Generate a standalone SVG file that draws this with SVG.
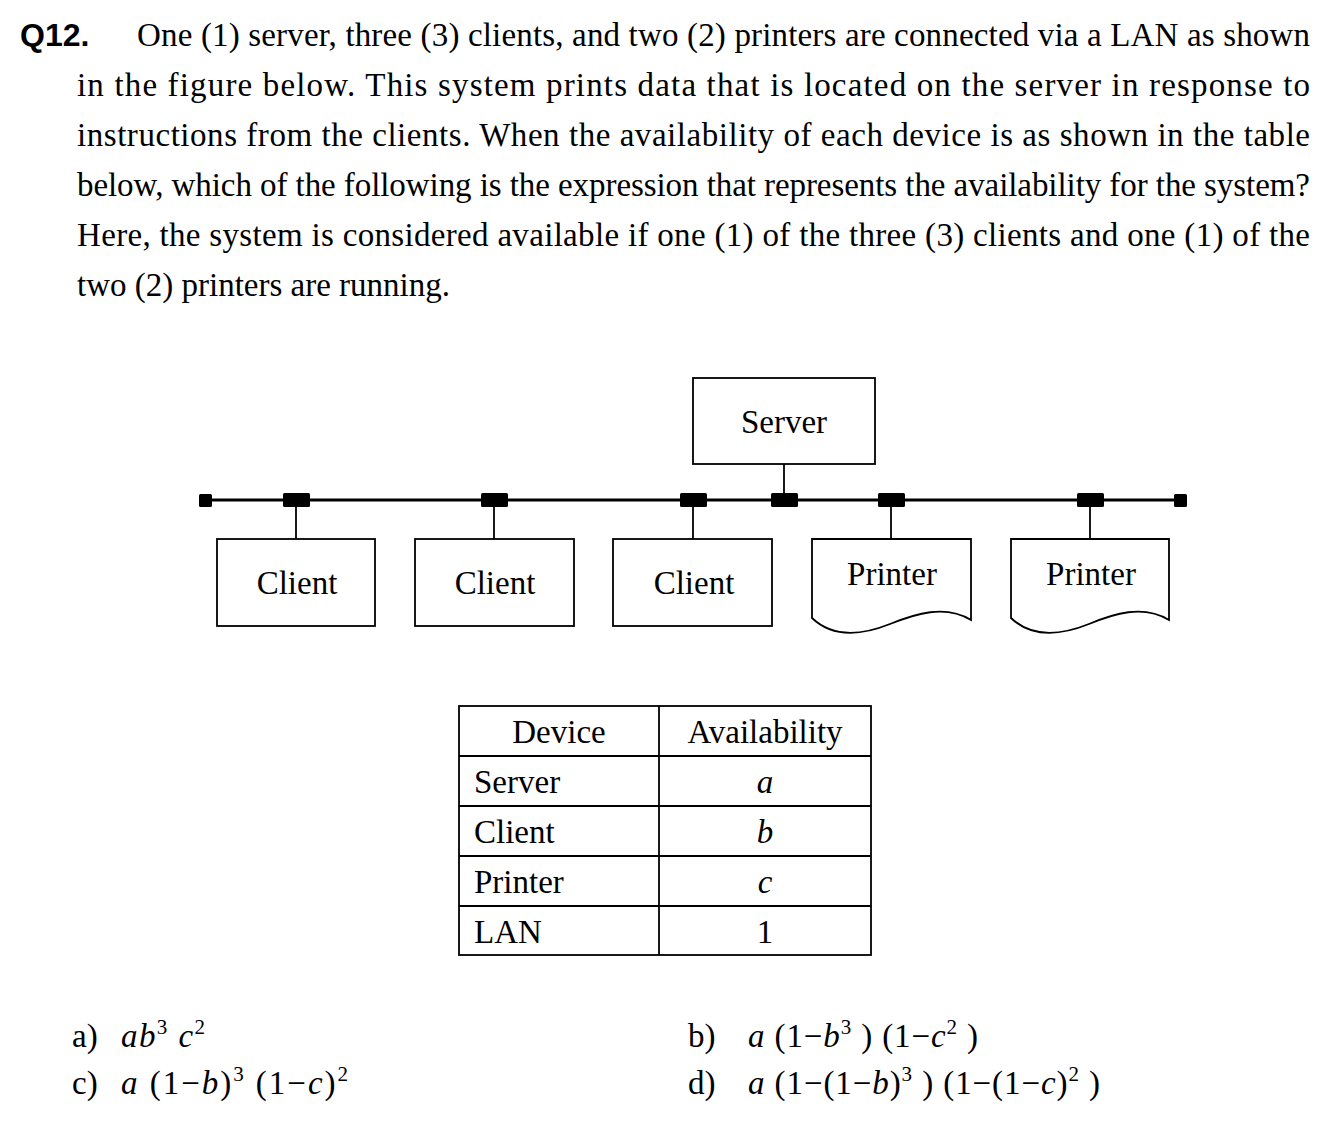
<svg xmlns="http://www.w3.org/2000/svg" width="1330" height="1123" viewBox="0 0 1330 1123">
<style>
text{font-family:"Liberation Serif","Times New Roman",serif;font-size:33px;fill:#000}
.q{font-family:"Liberation Sans",Arial,sans-serif;font-weight:bold;font-size:32px}
.box{fill:#fff;stroke:#000;stroke-width:1.8}
.drop{stroke:#000;stroke-width:1.8;fill:none}
.blk{fill:#000}
.tbl{fill:none;stroke:#000;stroke-width:1.8}
.i{font-style:italic}
.sup{font-size:21px;font-style:normal}
.c{text-anchor:middle}
</style>
<rect width="1330" height="1123" fill="#fff"/>
<g id="question">
<text class="q" x="20" y="46">Q12.</text>
<text x="137" y="46" textLength="1173" lengthAdjust="spacing">One (1) server, three (3) clients, and two (2) printers are connected via a LAN as shown</text>
<text x="77" y="96" textLength="1233" lengthAdjust="spacing">in the figure below. This system prints data that is located on the server in response to</text>
<text x="77" y="146" textLength="1233" lengthAdjust="spacing">instructions from the clients. When the availability of each device is as shown in the table</text>
<text x="77" y="196" textLength="1233" lengthAdjust="spacing">below, which of the following is the expression that represents the availability for the system?</text>
<text x="77" y="246" textLength="1233" lengthAdjust="spacing">Here, the system is considered available if one (1) of the three (3) clients and one (1) of the</text>
<text x="77" y="296">two (2) printers are running.</text>
</g>
<g id="connectors">
<line x1="205" y1="500" x2="1180" y2="500" stroke="#000" stroke-width="3"/>
<rect class="blk" x="199" y="494" width="13" height="13" rx="1.5"/>
<rect class="blk" x="1174" y="494" width="13" height="13" rx="1.5"/>
<rect class="blk" x="283" y="493" width="27" height="14" rx="1.5"/>
<rect class="blk" x="481" y="493" width="27" height="14" rx="1.5"/>
<rect class="blk" x="680" y="493" width="27" height="14" rx="1.5"/>
<rect class="blk" x="771" y="493" width="27" height="14" rx="1.5"/>
<rect class="blk" x="878" y="493" width="27" height="14" rx="1.5"/>
<rect class="blk" x="1077" y="493" width="27" height="14" rx="1.5"/>
<line class="drop" x1="784" y1="464" x2="784" y2="493"/>
<line class="drop" x1="296" y1="507" x2="296" y2="539"/>
<line class="drop" x1="494" y1="507" x2="494" y2="539"/>
<line class="drop" x1="693" y1="507" x2="693" y2="539"/>
<line class="drop" x1="891" y1="507" x2="891" y2="539"/>
<line class="drop" x1="1090" y1="507" x2="1090" y2="539"/>
</g>
<g id="server">
<rect class="box" x="693" y="378" width="182" height="86"/>
<text class="c" x="784" y="433">Server</text>
</g>
<g id="client1">
<rect class="box" x="217" y="539" width="158" height="87"/>
<text class="c" x="297" y="594">Client</text>
</g>
<g id="client2">
<rect class="box" x="415" y="539" width="159" height="87"/>
<text class="c" x="495" y="594">Client</text>
</g>
<g id="client3">
<rect class="box" x="613" y="539" width="159" height="87"/>
<text class="c" x="694" y="594">Client</text>
</g>
<g id="printer1">
<path class="box" d="M812,539 H971 V620 C945,604 915,614 890,624 C865,634 835,640 812,618 Z"/>
<text class="c" x="892" y="585">Printer</text>
</g>
<g id="printer2">
<path class="box" d="M1011,539 H1169 V620 C1143,604 1113,614 1089,624 C1064,634 1034,640 1011,618 Z"/>
<text class="c" x="1091" y="585">Printer</text>
</g>
<g id="table">
<rect class="tbl" x="459" y="706" width="412" height="249" stroke-width="2.2"/>
<line class="tbl" x1="659" y1="706" x2="659" y2="955"/>
<line class="tbl" x1="459" y1="756" x2="871" y2="756"/>
<line class="tbl" x1="459" y1="806" x2="871" y2="806"/>
<line class="tbl" x1="459" y1="856" x2="871" y2="856"/>
<line class="tbl" x1="459" y1="906" x2="871" y2="906"/>
<text class="c" x="559" y="743">Device</text>
<text class="c" x="765" y="743">Availability</text>
<text x="474" y="793">Server</text>
<text x="474" y="843">Client</text>
<text x="474" y="893">Printer</text>
<text x="474" y="943">LAN</text>
<text class="c i" x="765" y="793">a</text>
<text class="c i" x="765" y="843">b</text>
<text class="c i" x="765" y="893">c</text>
<text class="c" x="765" y="943">1</text>
</g>
<g id="answers">
<text x="72" y="1047">a)</text>
<text x="121" y="1047" textLength="84" lengthAdjust="spacing"><tspan class="i">ab</tspan><tspan class="sup" dy="-13">3</tspan><tspan class="i" dy="13"> c</tspan><tspan class="sup" dy="-13">2</tspan></text>
<text x="72" y="1094">c)</text>
<text x="121" y="1094" textLength="227" lengthAdjust="spacing"><tspan class="i">a</tspan> (1−<tspan class="i">b</tspan>)<tspan class="sup" dy="-13">3</tspan><tspan dy="13"> (1−</tspan><tspan class="i">c</tspan>)<tspan class="sup" dy="-13">2</tspan></text>
<text x="688" y="1047">b)</text>
<text x="748" y="1047" textLength="230" lengthAdjust="spacing"><tspan class="i">a</tspan> (1−<tspan class="i">b</tspan><tspan class="sup" dy="-13">3</tspan><tspan dy="13"> ) (1−</tspan><tspan class="i">c</tspan><tspan class="sup" dy="-13">2</tspan><tspan dy="13"> )</tspan></text>
<text x="688" y="1094">d)</text>
<text x="748" y="1094" textLength="352" lengthAdjust="spacing"><tspan class="i">a</tspan> (1−(1−<tspan class="i">b</tspan>)<tspan class="sup" dy="-13">3</tspan><tspan dy="13"> ) (1−(1−</tspan><tspan class="i">c</tspan>)<tspan class="sup" dy="-13">2</tspan><tspan dy="13"> )</tspan></text>
</g>
</svg>
